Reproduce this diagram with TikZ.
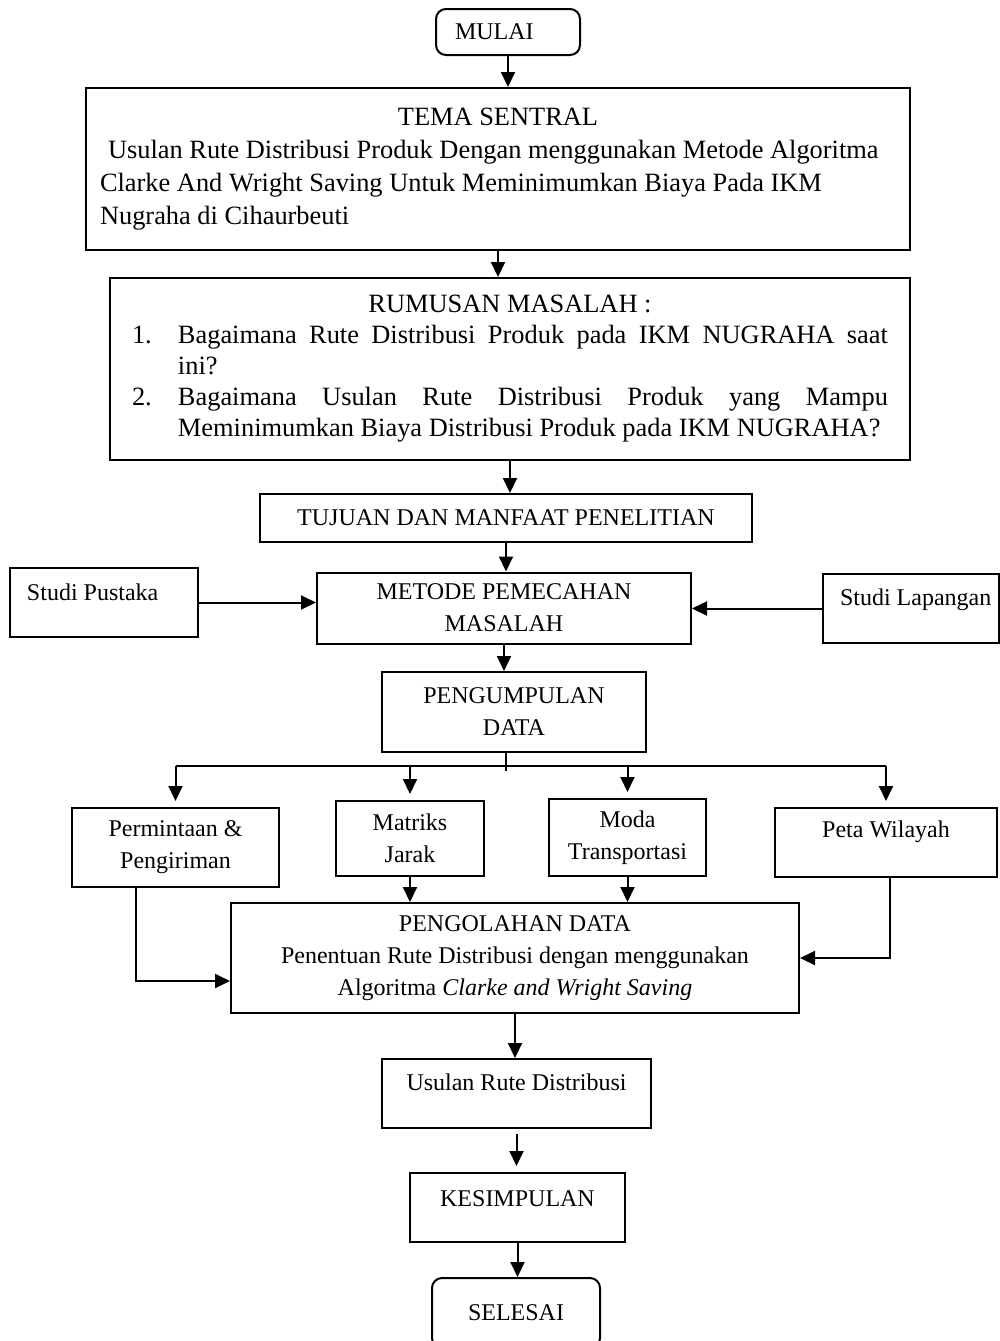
\documentclass[tikz,border=0pt]{standalone}
\usepackage{fontspec}
\setmainfont{Liberation Serif}
\usetikzlibrary{arrows.meta}

\begin{document}
\begin{tikzpicture}[x=0.5pt, y=-0.5pt,
    box/.style={draw, line width=1pt, rectangle, inner sep=0pt, align=center,
        font=\fontsize{12}{16}\selectfont},
    term/.style={box, rounded corners=5pt},
    arr/.style={-{Triangle[length=7.5pt,width=7pt]}, line width=1pt}]
    \useasboundingbox (0,0) rectangle (1000,1341);

    % alur utama
    \node[term, minimum width=72pt, minimum height=23pt] (mulai) at (508,32)
        {\makebox[72pt][l]{\hspace*{9.5pt}MULAI}};
    \node[box, minimum width=412pt, minimum height=81pt, align=left,
        font=\fontsize{13.2}{16.5}\selectfont] (tema) at (498,169)
        {\makebox[398pt]{TEMA SENTRAL}\\
         \hspace*{4pt}Usulan Rute Distribusi Produk Dengan menggunakan Metode Algoritma\\
         Clarke And Wright Saving Untuk Meminimumkan Biaya Pada IKM\\
         Nugraha di Cihaurbeuti};
    \node[box, minimum width=400pt, minimum height=91pt, text width=378pt, align=justify,
        font=\fontsize{13.2}{15.5}\selectfont] (rumusan) at (510,369)
        {\noindent\makebox[\hsize]{RUMUSAN MASALAH :}\par
         \noindent\hangindent=23pt\hangafter=1\makebox[23pt][l]{1.}Bagaimana Rute Distribusi Produk pada IKM NUGRAHA saat\linebreak ini?\par
         \noindent\hangindent=23pt\hangafter=1\makebox[23pt][l]{2.}Bagaimana Usulan Rute Distribusi Produk yang Mampu\linebreak Meminimumkan Biaya Distribusi Produk pada IKM NUGRAHA?\par};
    \node[box, minimum width=246pt, minimum height=24pt] (tujuan) at (506,518) {TUJUAN DAN MANFAAT PENELITIAN};
    \node[box, minimum width=187pt, minimum height=35.5pt] (metode) at (504,608) {METODE PEMECAHAN\\MASALAH};
    \node[box, minimum width=94pt, minimum height=34.5pt,
        text height=16pt, text depth=18.5pt] (pustaka) at (104,602.5)
        {\makebox[94pt][l]{\hspace*{8.5pt}Studi Pustaka}};
    \node[box, minimum width=88pt, minimum height=34.5pt,
        text height=15.5pt, text depth=19pt] (lapangan) at (911,608.5)
        {\makebox[88pt][l]{\hspace*{8.5pt}Studi Lapangan}};
    \node[box, minimum width=132pt, minimum height=40pt] (kumpul) at (514,712) {PENGUMPULAN\\DATA};

    % data yang dikumpulkan
    \node[box, minimum width=103.5pt, minimum height=39.5pt] (minta) at (175.5,847.5) {Permintaan \&\\Pengiriman};
    \node[box, minimum width=74pt, minimum height=37.5pt] (matriks) at (410,838.5) {Matriks\\Jarak};
    \node[box, minimum width=78.5pt, minimum height=38.5pt] (moda) at (627.5,837.5) {Moda\\Transportasi};
    \node[box, minimum width=111pt, minimum height=34.5pt,
        text height=14.5pt, text depth=20pt] (peta) at (886,842.5) {Peta Wilayah};

    \node[box, minimum width=284pt, minimum height=55pt] (olah) at (515,958)
        {PENGOLAHAN DATA\\Penentuan Rute Distribusi dengan menggunakan\\Algoritma \textit{Clarke and Wright Saving}};
    \node[box, minimum width=134.5pt, minimum height=34.5pt,
        text height=15.5pt, text depth=19pt] (usulan) at (516.5,1093.5) {Usulan Rute Distribusi};
    \node[box, minimum width=107.5pt, minimum height=34.5pt,
        text height=16.5pt, text depth=18pt] (kesimpulan) at (517.5,1207.5) {KESIMPULAN};
    \node[term, minimum width=84pt, minimum height=35pt] (selesai) at (516,1313) {SELESAI};

    % panah
    \draw[arr] (mulai) -- (mulai |- tema.north);
    \draw[arr] (tema) -- (tema |- rumusan.north);
    \draw[arr] (rumusan) -- (rumusan |- tujuan.north);
    \draw[arr] (tujuan) -- (tujuan |- metode.north);
    \draw[arr] (pustaka) -- (pustaka -| metode.west);
    \draw[arr] (lapangan) -- (lapangan -| metode.east);
    \draw[arr] (metode) -- (metode |- kumpul.north);

    \coordinate (simpul) at ([xshift=-4pt]kumpul.south |- 0,771);
    \coordinate (barL) at (minta.north |- 0,766);
    \coordinate (barR) at (peta.north |- 0,766);
    \draw[line width=1pt] (simpul |- kumpul.south) -- (simpul);
    \draw[line width=1pt] (barL) -- (barR);
    \draw[arr, shorten >=3pt] (barL) -- (minta);
    \draw[arr, shorten >=3pt] (matriks |- barL) -- (matriks);
    \draw[arr, shorten >=3pt] (moda |- barL) -- (moda);
    \draw[arr, shorten >=3pt] (barR) -- (peta);

    \draw[arr] (matriks) -- (matriks |- olah.north);
    \draw[arr] (moda) -- (moda |- olah.north);
    \draw[arr] ([xshift=-20pt]minta.south) |- ([yshift=-11.5pt]olah.west);
    \draw[arr] ([xshift=2pt]peta.south) |- (olah.east);

    \draw[arr] (olah) -- (olah |- usulan.north);
    \draw[arr, shorten <=2.5pt, shorten >=3pt] (usulan) -- (usulan |- kesimpulan.north);
    \draw[arr] (kesimpulan) -- (kesimpulan |- selesai.north);
\end{tikzpicture}
\end{document}
